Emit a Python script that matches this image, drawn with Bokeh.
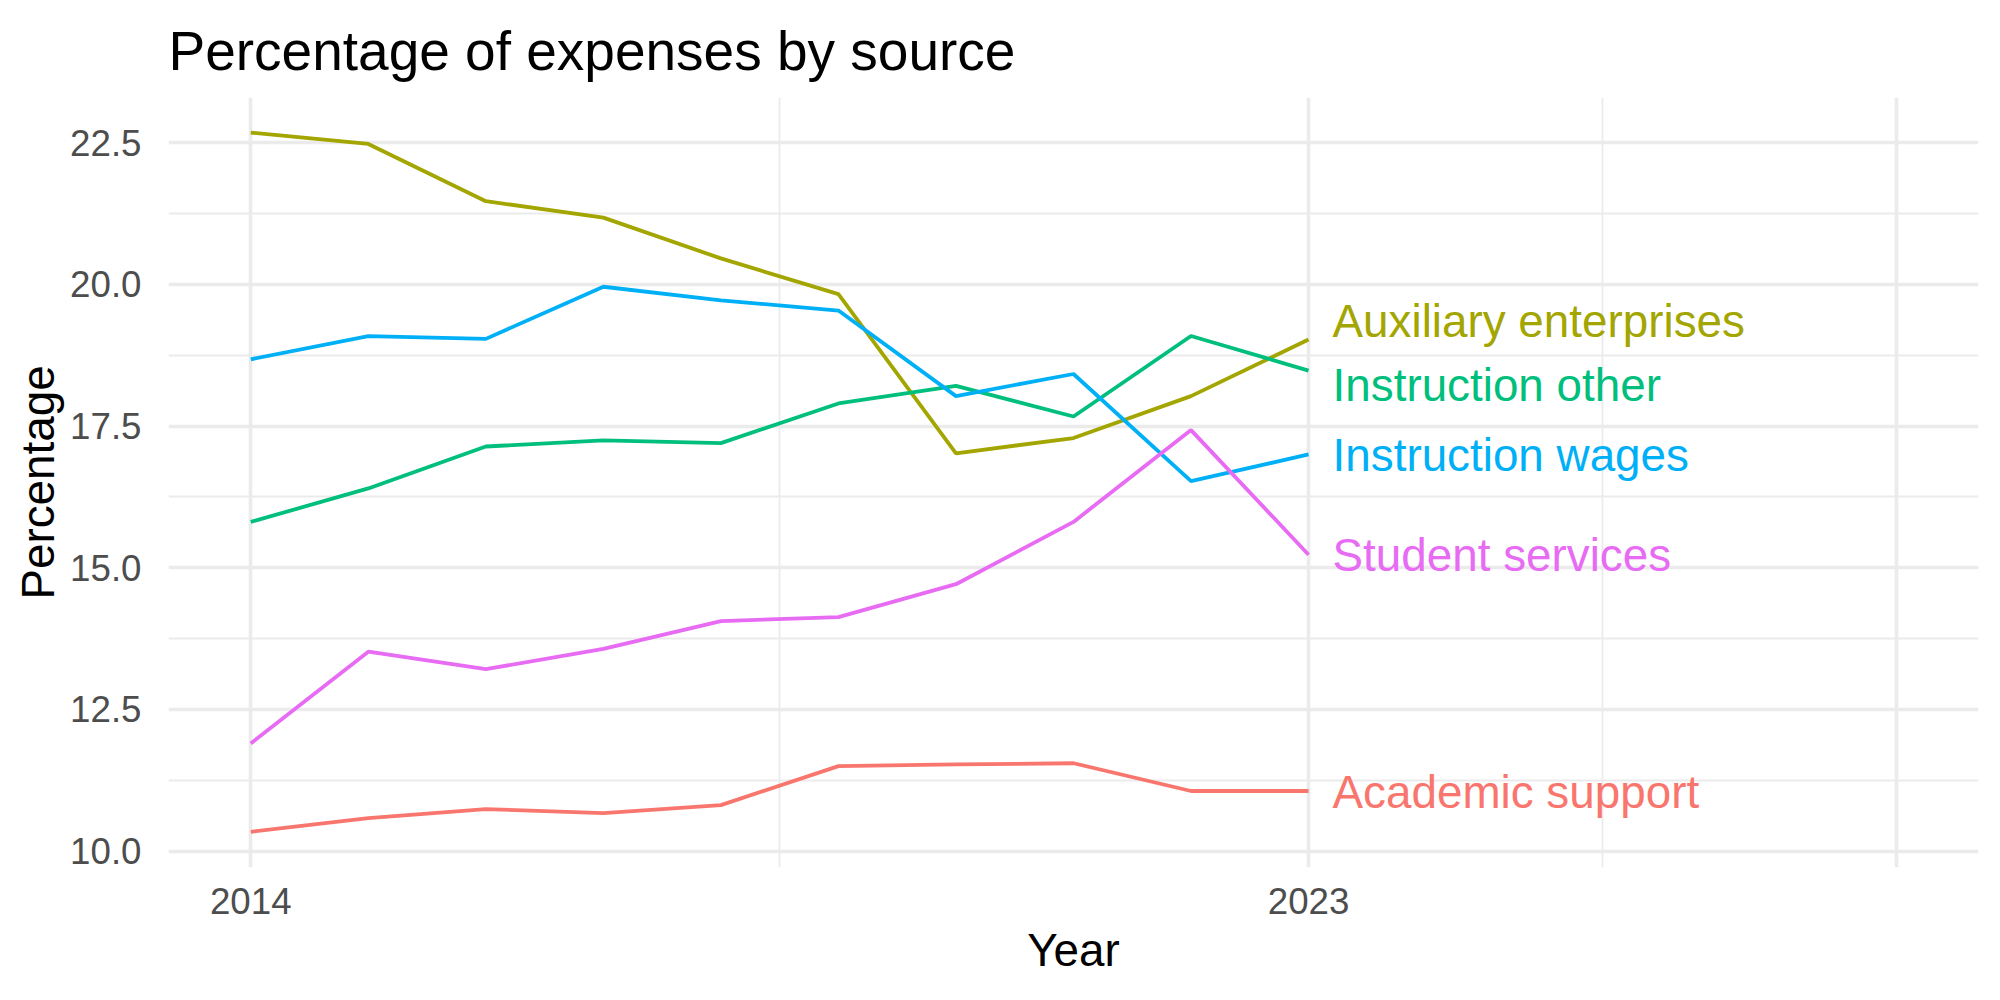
from bokeh.plotting import figure
from bokeh.models import FixedTicker, ColumnDataSource, Range1d
from bokeh.core.properties import value
from bokeh.embed import file_html
from bokeh.resources import INLINE

# Share of total expenses (%) by spending source, 2014-2023
years = [2014, 2015, 2016, 2017, 2018, 2019, 2020, 2021, 2022, 2023]
academic_support = [10.34, 10.58, 10.74, 10.67, 10.81, 11.50, 11.53, 11.55, 11.06, 11.06]
auxiliary_enterprises = [22.68, 22.48, 21.47, 21.18, 20.46, 19.83, 17.02, 17.29, 18.03, 19.03]
instruction_other = [15.81, 16.40, 17.14, 17.25, 17.20, 17.90, 18.21, 17.67, 19.09, 18.48]
instruction_wages = [18.68, 19.09, 19.04, 19.96, 19.72, 19.54, 18.03, 18.42, 16.53, 17.00]
student_services = [11.90, 13.52, 13.21, 13.57, 14.06, 14.13, 14.71, 15.81, 17.43, 15.23]

series_names = ["Academic support", "Auxiliary enterprises", "Instruction other",
                "Instruction wages", "Student services"]
series_values = [academic_support, auxiliary_enterprises, instruction_other,
                 instruction_wages, student_services]
series_colors = ["#F8766D", "#A3A500", "#00BF7D", "#00B0F6", "#E76BF3"]
# end-of-line label heights, spread apart so they do not overlap
label_y = [11.03, 19.35, 18.22, 16.99, 15.22]

x_ticks = [2014, 2023, 2028]
x_tick_labels = ["2014", "2023", ""]
x_minor = [2018.5, 2025.5]
y_ticks = [10.0, 12.5, 15.0, 17.5, 20.0, 22.5]
y_minor = [11.25, 13.75, 16.25, 18.75, 21.25]

FONT = "Liberation Sans"
GRID = "#EBEBEB"

p = figure(width=2000, height=1000, output_backend="svg", toolbar_location=None,
           x_range=Range1d(2013.3, 2028.7), y_range=Range1d(9.71, 23.30),
           min_border_left=168, min_border_right=22, min_border_top=97,
           min_border_bottom=133, title="Percentage of expenses by source")
p.outline_line_color = None
p.background_fill_color = "white"
p.border_fill_color = "white"

p.title.text_font = FONT
p.title.text_font_size = "55px"
p.title.text_font_style = "normal"
p.title.text_color = "black"
p.title.align = "left"
p.title.standoff = 32
p.title.offset = 0

for ax in (p.xaxis[0], p.yaxis[0]):
    ax.axis_line_color = None
    ax.major_tick_line_color = None
    ax.minor_tick_line_color = None
    ax.major_label_text_font = FONT
    ax.major_label_text_font_size = "36.7px"
    ax.major_label_text_color = "#4D4D4D"
    ax.axis_label_text_font = FONT
    ax.axis_label_text_font_size = "45.8px"
    ax.axis_label_text_font_style = "normal"
    ax.axis_label_text_color = "black"

p.xaxis.ticker = FixedTicker(ticks=x_ticks, minor_ticks=x_minor)
p.xaxis.major_label_overrides = {t: lab for t, lab in zip(x_ticks, x_tick_labels)}
p.xaxis.axis_label = "Year"
p.xaxis.major_label_standoff = 14
p.xaxis.axis_label_standoff = 8

p.yaxis.ticker = FixedTicker(ticks=y_ticks, minor_ticks=y_minor)
p.yaxis.major_label_overrides = {t: f"{t:.1f}" for t in y_ticks}
p.yaxis.axis_label = "Percentage"
p.yaxis.major_label_standoff = 21
p.yaxis.axis_label_standoff = 3

for g in (p.xgrid[0], p.ygrid[0]):
    g.grid_line_color = GRID
    g.grid_line_width = 3.6
    g.minor_grid_line_color = GRID
    g.minor_grid_line_width = 1.8

for name, vals, color, ly in zip(series_names, series_values, series_colors, label_y):
    p.line(years, vals, line_color=color, line_width=3.8)
    src = ColumnDataSource(dict(x=[years[-1]], y=[ly], t=[name]))
    p.text(x="x", y="y", text="t", source=src, x_offset=24,
           text_color=color, text_font=value(FONT), text_font_size="45.8px",
           text_align="left", text_baseline="middle")

open("out.html", "w").write(file_html(p, INLINE))
